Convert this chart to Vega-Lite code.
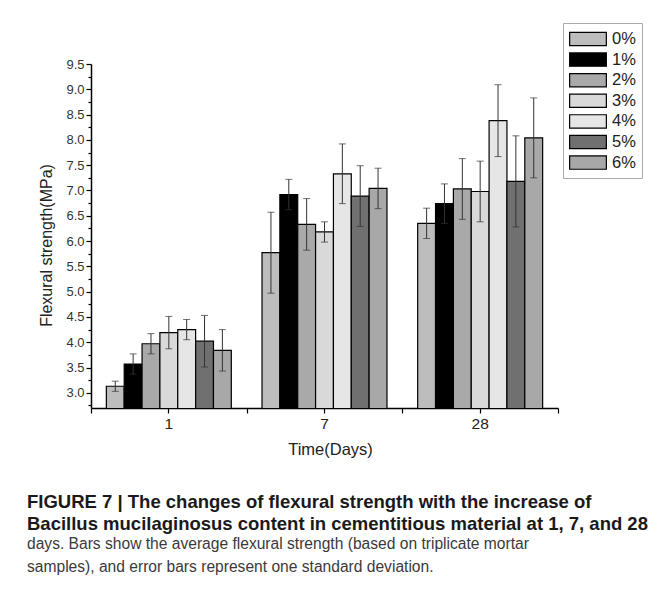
{
  "$schema": "https://vega.github.io/schema/vega-lite/v6.json",
  "width": 467,
  "height": 344,
  "autosize": {"type": "none"},
  "padding": {"left": 91, "top": 64, "right": 112, "bottom": 188},
  "background": "white",
  "config": {"view": {"stroke": null}, "font": "Liberation Sans"},
  "title": {
    "text": ["FIGURE 7 | The changes of flexural strength with the increase of", "Bacillus mucilaginosus content in cementitious material at 1, 7, and 28"],
    "subtitle": ["days. Bars show the average flexural strength (based on triplicate mortar", "samples), and error bars represent one standard deviation."],
    "orient": "bottom",
    "anchor": "start",
    "frame": "group",
    "dx": -64,
    "offset": 35,
    "font": "Liberation Sans",
    "fontSize": 18.5,
    "fontWeight": "bold",
    "color": "#1a1a1a",
    "lineHeight": 21.5,
    "subtitleFont": "Liberation Sans",
    "subtitleFontSize": 15.6,
    "subtitleColor": "#3a3a3a",
    "subtitleLineHeight": 22.5,
    "subtitlePadding": 4
  },
  "data": {
    "values": [
      {"day": "1", "pct": "0%", "mean": 3.13, "sd": 0.1},
      {"day": "1", "pct": "1%", "mean": 3.57, "sd": 0.2},
      {"day": "1", "pct": "2%", "mean": 3.97, "sd": 0.2},
      {"day": "1", "pct": "3%", "mean": 4.19, "sd": 0.32},
      {"day": "1", "pct": "4%", "mean": 4.25, "sd": 0.2},
      {"day": "1", "pct": "5%", "mean": 4.02, "sd": 0.51},
      {"day": "1", "pct": "6%", "mean": 3.84, "sd": 0.41},
      {"day": "7", "pct": "0%", "mean": 5.77, "sd": 0.8},
      {"day": "7", "pct": "1%", "mean": 6.92, "sd": 0.3},
      {"day": "7", "pct": "2%", "mean": 6.33, "sd": 0.51},
      {"day": "7", "pct": "3%", "mean": 6.18, "sd": 0.2},
      {"day": "7", "pct": "4%", "mean": 7.33, "sd": 0.59},
      {"day": "7", "pct": "5%", "mean": 6.89, "sd": 0.6},
      {"day": "7", "pct": "6%", "mean": 7.04, "sd": 0.4},
      {"day": "28", "pct": "0%", "mean": 6.35, "sd": 0.3},
      {"day": "28", "pct": "1%", "mean": 6.74, "sd": 0.39},
      {"day": "28", "pct": "2%", "mean": 7.03, "sd": 0.6},
      {"day": "28", "pct": "3%", "mean": 6.98, "sd": 0.6},
      {"day": "28", "pct": "4%", "mean": 8.38, "sd": 0.71},
      {"day": "28", "pct": "5%", "mean": 7.18, "sd": 0.9},
      {"day": "28", "pct": "6%", "mean": 8.04, "sd": 0.79}
    ]
  },
  "layer": [
    {
      "mark": {"type": "bar", "stroke": "#000", "strokeWidth": 1.2, "clip": true},
      "encoding": {
        "x": {
          "field": "day", "type": "nominal", "sort": ["1", "7", "28"],
          "scale": {"paddingInner": 0, "paddingOuter": 0},
          "axis": {"tickBand": "extent", "labels": false, "title": null, "tickSize": 5, "tickColor": "#000", "tickWidth": 1.2, "domainColor": "#000", "domainWidth": 1.5}
        },
        "xOffset": {"field": "pct", "type": "nominal", "scale": {"paddingInner": 0, "paddingOuter": 0.86}},
        "y": {
          "field": "mean", "type": "quantitative",
          "scale": {"domain": [2.7, 9.5], "zero": false, "nice": false},
          "axis": {
            "title": "Flexural strength(MPa)",
            "titleY": 181,
            "values": [3, 3.5, 4, 4.5, 5, 5.5, 6, 6.5, 7, 7.5, 8, 8.5, 9, 9.5],
            "format": ".1f",
            "tickSize": 5,
            "tickColor": "#000", "tickWidth": 1.2,
            "domainColor": "#000", "domainWidth": 1.5,
            "grid": false,
            "labelFontSize": 13, "labelColor": "#333", "labelPadding": 2,
            "titleFontSize": 16, "titleFontWeight": "normal", "titleColor": "#222", "titlePadding": 11
          }
        },
        "fill": {
          "field": "pct", "type": "nominal",
          "scale": {"domain": ["0%", "1%", "2%", "3%", "4%", "5%", "6%"], "range": ["#bdbdbd", "#000000", "#a9a9a9", "#d9d9d9", "#e6e6e6", "#707070", "#a8a8a8"]},
          "legend": {
            "orient": "none", "legendX": 472, "legendY": -41,
            "title": null,
            "symbolType": "M-2,-0.726H2V0.726H-2Z",
            "symbolSize": 337,
            "symbolOffset": 9,
            "symbolStrokeColor": "#000", "symbolStrokeWidth": 1.2, "symbolOpacity": 1,
            "labelFontSize": 16.5, "labelColor": "#222", "labelOffset": 14,
            "strokeColor": "#aaa", "fillColor": "#fff", "padding": 6, "rowPadding": 0.6
          }
        }
      }
    },
    {
      "mark": {"type": "errorbar", "ticks": {"size": 7, "thickness": 1}, "thickness": 1, "color": "#333"},
      "encoding": {
        "x": {
          "field": "day", "type": "nominal", "sort": ["1", "7", "28"],
          "axis": {"orient": "bottom", "domain": false, "labelAngle": 0, "labelFontSize": 15.5, "labelColor": "#222", "labelPadding": 3, "title": "Time(Days)", "titleX": 239, "titleFontSize": 16.5, "titleFontWeight": "normal", "titleColor": "#222", "titlePadding": 10, "tickSize": 5, "tickColor": "#000", "tickWidth": 1.2}
        },
        "xOffset": {"field": "pct", "type": "nominal"},
        "y": {
          "field": "mean", "type": "quantitative",
          "axis": {"orient": "left", "title": null, "labels": false, "domain": false, "grid": false, "tickSize": 3, "tickColor": "#000", "tickWidth": 1.2,
            "values": [2.75, 3.25, 3.75, 4.25, 4.75, 5.25, 5.75, 6.25, 6.75, 7.25, 7.75, 8.25, 8.75, 9.25]}
        },
        "yError": {"field": "sd"}
      }
    }
  ],
  "resolve": {"axis": {"x": "independent", "y": "independent"}}
}
